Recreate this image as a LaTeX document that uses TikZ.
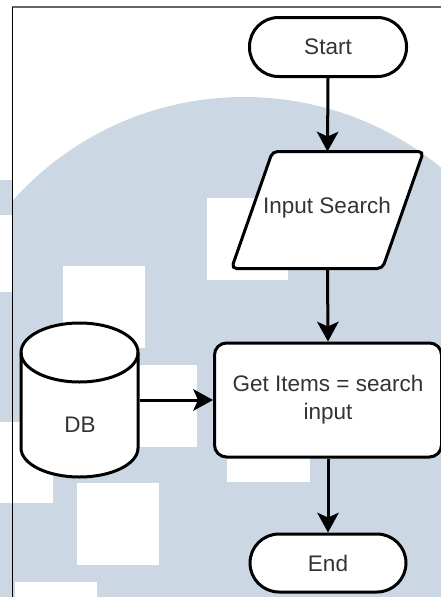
\documentclass[tikz,border=0pt]{standalone}
\usepackage{fontspec}
\setmainfont{Liberation Sans}
\usetikzlibrary{arrows.meta}
\definecolor{wmblue}{RGB}{203,216,227}

\begin{document}
\begin{tikzpicture}[x=1pt,y=-1pt,
    box/.style={draw=black,line width=3pt,fill=white,text=black!80,
      font=\fontsize{22.5}{28}\selectfont,inner sep=0pt},
    term/.style={box,rounded corners=29pt,minimum width=157pt,minimum height=59pt},
    lbl/.style={text=black!80,font=\fontsize{22.5}{28}\selectfont,inner sep=0pt},
    arr/.style={line width=3pt,-{Stealth[length=20pt,width=22pt,inset=5pt,line width=0pt]}}]
    \useasboundingbox (0,0) rectangle (441,597);
    \begin{scope}
      \clip (0,0) rectangle (441,597);
      \fill[wmblue] (244,407) circle[radius=310pt];
      \fill[wmblue] (0,180) rectangle (12,215);
      \fill[white] (207,198) rectangle (288,280);
      \fill[white] (63,266) rectangle (145,348);
      \fill[white] (0,215) rectangle (12,292);
      \fill[white] (115,365) rectangle (197,447);
      \fill[white] (0,422) rectangle (53,503);
      \fill[white] (77,483) rectangle (159,565);
      \fill[white] (227,400) rectangle (310,482);
      \fill[white] (15,582) rectangle (97,600);
    \end{scope}
    \draw[black!60,line width=1.5pt] (12,7) -- (441,7);
    \draw[black,line width=1pt] (12,7) -- (12,597);

    \node[term] (start) at (328,47) {Start};
    \node[inner sep=0pt,outer sep=1.5pt,minimum width=148pt,minimum height=114pt] (input) at (327.5,210) {};
    \draw[line width=3pt,fill=white,rounded corners=5pt]
      ([xshift=-20.5pt]input.south west) -- ([xshift=-20.5pt]input.south east)
      -- ([xshift=20.5pt]input.north east) -- ([xshift=20.5pt]input.north west) -- cycle;
    \node[lbl] (inputlabel) at (327,208) {Input Search};
    \node[box,rounded corners=12pt,align=center,
      minimum width=227pt,minimum height=114pt] (get) at (328,400) {Get Items = search\\input};
    \node[term,minimum width=156pt,minimum height=58pt] (end) at (328,563) {End};

    \draw[line width=3pt,fill=white] (21,352.5) -- (21,448)
      arc[start angle=180,end angle=360,x radius=58.5pt,y radius=29pt] -- (138,352.5)
      arc[start angle=0,end angle=180,x radius=58.5pt,y radius=29.5pt] -- cycle;
    \draw[line width=3pt] (21,352.5)
      arc[start angle=180,end angle=360,x radius=58.5pt,y radius=29.5pt];
    \coordinate (db) at (139.5,400);
    \node[lbl] (dblabel) at (80,425) {DB};

    \draw[arr] (start.south) -- (input.north);
    \draw[arr] (input.south) -- (get.north);
    \draw[arr] (get.south) -- (end.north);
    \draw[arr] (db) -- (get.west);
\end{tikzpicture}
\end{document}
